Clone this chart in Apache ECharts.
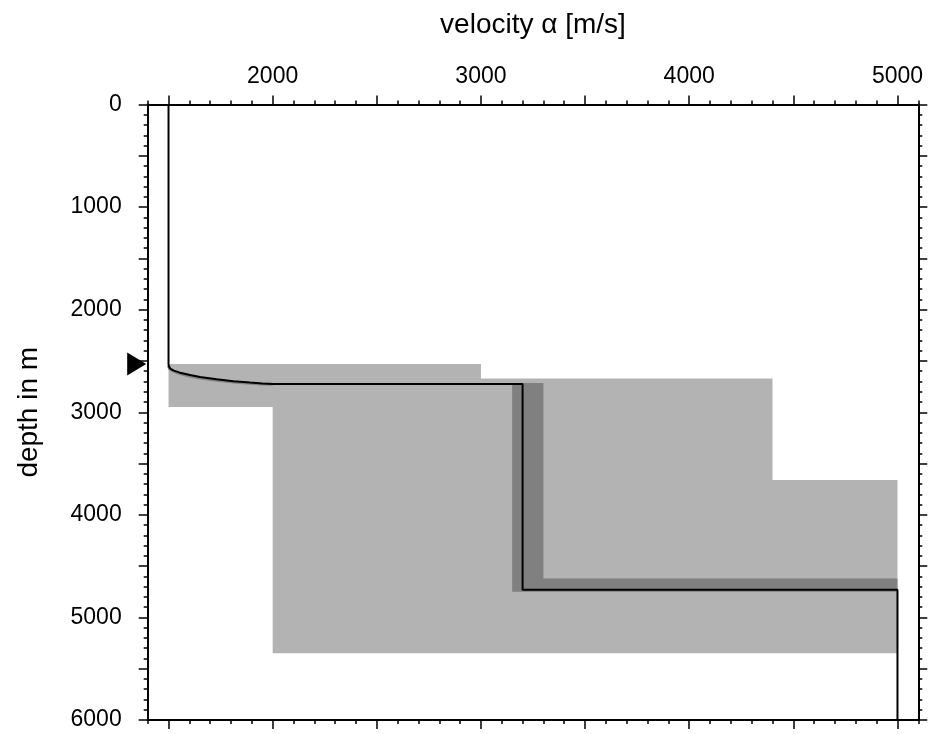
<!DOCTYPE html>
<html>
<head>
<meta charset="utf-8">
<script src="https://cdn.jsdelivr.net/npm/echarts@6/dist/echarts.min.js"></script>
<style>
  html, body { margin: 0; padding: 0; background: #fff; }
  #chart { width: 928px; height: 734px; }
</style>
</head>
<body>
<div id="chart"></div>
<script>
// Axis ranges and labelled ticks
const velRange = [1400, 5100];
const depthRange = [0, 6000];
const velLabels = [2000, 3000, 4000, 5000];
const velMajorTicks = [1500, 2000, 2500, 3000, 3500, 4000, 4500, 5000];
const depthLabels = [0, 1000, 2000, 3000, 4000, 5000, 6000];
const depthMajorTicks = [0, 500, 1000, 1500, 2000, 2500, 3000, 3500, 4000, 4500, 5000, 5500, 6000];

// Minor tick positions every 100 units
const velMinorTicks = [];
for (let v = velRange[0]; v <= velRange[1]; v += 100) velMinorTicks.push(v);
const depthMinorTicks = [];
for (let d = depthRange[0]; d <= depthRange[1]; d += 100) depthMinorTicks.push(d);

// Outer search bounds of the velocity model (polygon vertices: [velocity, depth])
const outerBounds = [
  [1500, 2530], [3000, 2530], [3000, 2670], [4400, 2670], [4400, 3660],
  [5000, 3660], [5000, 5350], [2000, 5350], [2000, 2950], [1500, 2950]
];

// Inner bounds around the lower layer
const innerBounds = [
  [3150, 2715], [3300, 2715], [3300, 4620], [5000, 4620],
  [5000, 4750], [3150, 4750]
];

// Gradient of the reference model just below the sea floor
const refGradient = [
  [1500, 2545], [1505, 2575], [1520, 2597], [1550, 2621], [1600, 2646],
  [1650, 2666], [1730, 2688], [1810, 2705], [1890, 2717], [1950, 2724], [2000, 2727]
];

// Final velocity profile
const profile = [
  [1500, 0], [1500, 2530], [1502, 2555], [1510, 2578], [1525, 2594],
  [1555, 2614], [1603, 2636], [1651, 2656], [1731, 2678], [1811, 2698],
  [1891, 2711], [1950, 2720], [2000, 2725], [3200, 2725], [3200, 4730],
  [5000, 4730], [5000, 6000]
];

// Sea floor marker on the depth axis
const seafloorMarker = [[1400, 2530]];

const FONT = 'Liberation Sans, Arial, Helvetica, sans-serif';

function baseAxis(range, position, extra) {
  return Object.assign({
    type: 'value',
    position: position,
    min: range[0],
    max: range[1],
    splitLine: { show: false },
    axisLine: { show: false, onZero: false },
    axisTick: { show: false },
    axisLabel: { show: false }
  }, extra);
}

function majorTicks(values) {
  return { show: true, inside: false, length: 9, customValues: values,
           lineStyle: { color: '#000', width: 1.5 } };
}
function minorTicks(values) {
  return { show: true, inside: false, length: 4, customValues: values,
           lineStyle: { color: '#000', width: 1.5 } };
}
const frameLine = { show: true, onZero: false, lineStyle: { color: '#000', width: 2 } };

function polygonSeries(vertices, color) {
  return {
    type: 'custom',
    xAxisIndex: 0,
    yAxisIndex: 0,
    silent: true,
    data: [vertices[0]],
    renderItem: function (params, api) {
      const pts = vertices.map(function (p) { return api.coord(p); });
      return { type: 'polygon', shape: { points: pts }, style: { fill: color, stroke: null } };
    }
  };
}

const chart = echarts.init(document.getElementById('chart'), null, { renderer: 'canvas' });

chart.setOption({
  animation: false,
  backgroundColor: '#fff',
  textStyle: { fontFamily: FONT },
  grid: { left: 147.7, right: 9.7, top: 104.5, bottom: 14, containLabel: false, outerBoundsMode: 'none' },
  xAxis: [
    baseAxis(velRange, 'top', {
      axisLine: frameLine,
      axisTick: majorTicks(velMajorTicks),
      axisLabel: { show: true, customValues: velLabels, margin: 16, fontSize: 23, color: '#000',
                   fontFamily: FONT, formatter: function (v) { return String(v); } },
      name: 'velocity \u03b1 [m/s]',
      nameLocation: 'middle',
      nameGap: 65,
      nameTextStyle: { fontSize: 28, color: '#000', fontFamily: FONT }
    }),
    baseAxis(velRange, 'top', { axisTick: minorTicks(velMinorTicks) }),
    baseAxis(velRange, 'bottom', { axisLine: frameLine, axisTick: majorTicks(velMajorTicks) }),
    baseAxis(velRange, 'bottom', { axisTick: minorTicks(velMinorTicks) })
  ],
  yAxis: [
    baseAxis(depthRange, 'left', {
      inverse: true,
      axisLine: frameLine,
      axisTick: majorTicks(depthMajorTicks),
      axisLabel: { show: true, customValues: depthLabels, margin: 26, fontSize: 23, color: '#000',
                   fontFamily: FONT, formatter: function (v) { return String(v); } },
      name: 'depth in m',
      nameLocation: 'middle',
      nameGap: 104,
      nameTextStyle: { fontSize: 28, color: '#000', fontFamily: FONT }
    }),
    baseAxis(depthRange, 'left', { inverse: true, axisTick: minorTicks(depthMinorTicks) }),
    baseAxis(depthRange, 'right', { inverse: true, axisLine: frameLine, axisTick: majorTicks(depthMajorTicks) }),
    baseAxis(depthRange, 'right', { inverse: true, axisTick: minorTicks(depthMinorTicks) })
  ],
  series: [
    polygonSeries(outerBounds, '#b3b3b3'),
    polygonSeries(innerBounds, '#808080'),
    {
      type: 'line',
      xAxisIndex: 0, yAxisIndex: 0,
      data: refGradient,
      showSymbol: false,
      silent: true,
      lineStyle: { color: '#858585', width: 3 }
    },
    {
      type: 'line',
      xAxisIndex: 0, yAxisIndex: 0,
      data: profile,
      showSymbol: false,
      silent: true,
      lineStyle: { color: '#000', width: 2 }
    },
    {
      type: 'scatter',
      xAxisIndex: 0, yAxisIndex: 0,
      data: seafloorMarker,
      clip: false,
      silent: true,
      symbol: 'path://M0,0L1,0.5L0,1Z',
      symbolSize: [19, 23],
      symbolOffset: [-11, 0],
      itemStyle: { color: '#000', opacity: 1 }
    }
  ]
});
</script>
</body>
</html>
